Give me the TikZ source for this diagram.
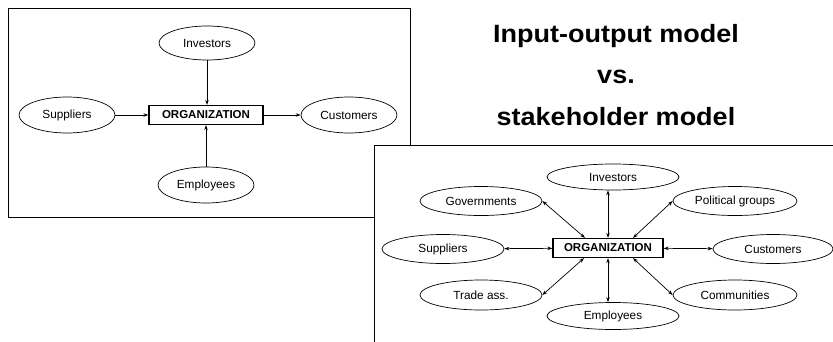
\documentclass[tikz,border=0pt]{standalone}
\usepackage{fontspec}
\setmainfont{Liberation Sans}
\usetikzlibrary{shapes.geometric,arrows.meta}
\begin{document}
\begin{tikzpicture}[x=1pt,y=-1pt,line width=0.7pt,
  party/.style={draw,ellipse,inner sep=0pt,font=\fontsize{11.8}{14}\selectfont},
  orgbox/.style={draw,line width=1.2pt,inner sep=0pt,minimum width=114pt,minimum height=19pt,font=\fontsize{11.5}{14}\selectfont\bfseries},
  heading/.style={anchor=base,font=\fontsize{25}{30}\selectfont\bfseries},
  >={Stealth[length=5pt,width=3.5pt]}]
\useasboundingbox (0,0) rectangle (833,341);
\clip (0,0) rectangle (833,341);
% input-output model
\draw[line width=1pt] (8,8) rectangle (410,217);
\node[orgbox] (O1) at (206,115) {ORGANIZATION};
\node[party,minimum width=96pt,minimum height=34pt] (I1) at (207,43) {Investors};
\node[party,minimum width=96pt,minimum height=36pt] (S1) at (67,115) {Suppliers};
\node[party,minimum width=96pt,minimum height=36pt] (C1) at (349,115) {Customers};
\node[party,minimum width=96pt,minimum height=36pt] (E1) at (206,185) {Employees};
\draw[->] (I1.south) -- (I1.south |- O1.north);
\draw[->] (S1) -- (O1);
\draw[->] (O1) -- (C1);
\draw[->] (E1) -- (O1);
% title
\node[heading] (H1) at (616,42) {\scalebox{1.08}[1]{Input-output model}};
\node[heading] (H2) at (616,83) {\scalebox{1.08}[1]{vs.}};
\node[heading] (H3) at (616,125) {\scalebox{1.08}[1]{stakeholder model}};
% stakeholder model
\draw[line width=1pt,fill=white] (374,145) rectangle (860,370);
\node[orgbox,minimum width=110pt] (O2) at (608,248) {ORGANIZATION};
\node[party,minimum width=132pt,minimum height=26pt] (I2) at (613,177) {Investors};
\node[party,minimum width=122pt,minimum height=29pt] (G2) at (481,201) {Governments};
\node[party,minimum width=124pt,minimum height=29pt] (P2) at (735,201) {Political groups};
\node[party,minimum width=122pt,minimum height=29pt] (S2) at (443,249) {Suppliers};
\node[party,minimum width=120pt,minimum height=29pt] (C2) at (773,249) {Customers};
\node[party,minimum width=122pt,minimum height=30pt] (T2) at (481,295) {Trade ass.};
\node[party,minimum width=124pt,minimum height=30pt] (K2) at (735,295) {Communities};
\node[party,minimum width=132pt,minimum height=27pt] (E2) at (613,316) {Employees};
\draw[<->] (O2.north |- I2.south) -- (O2.north);
\draw[<->] (G2.east) -- ([xshift=-23pt]O2.north);
\draw[<->] (P2.west) -- ([xshift=25pt]O2.north);
\draw[<->] (S2) -- (O2);
\draw[<->] (O2) -- (C2);
\draw[<->] (T2.east) -- ([xshift=-24pt]O2.south);
\draw[<->] (K2.west) -- ([xshift=25pt]O2.south);
\draw[<->] (O2.south |- E2.north) -- (O2.south);
\end{tikzpicture}
\end{document}
